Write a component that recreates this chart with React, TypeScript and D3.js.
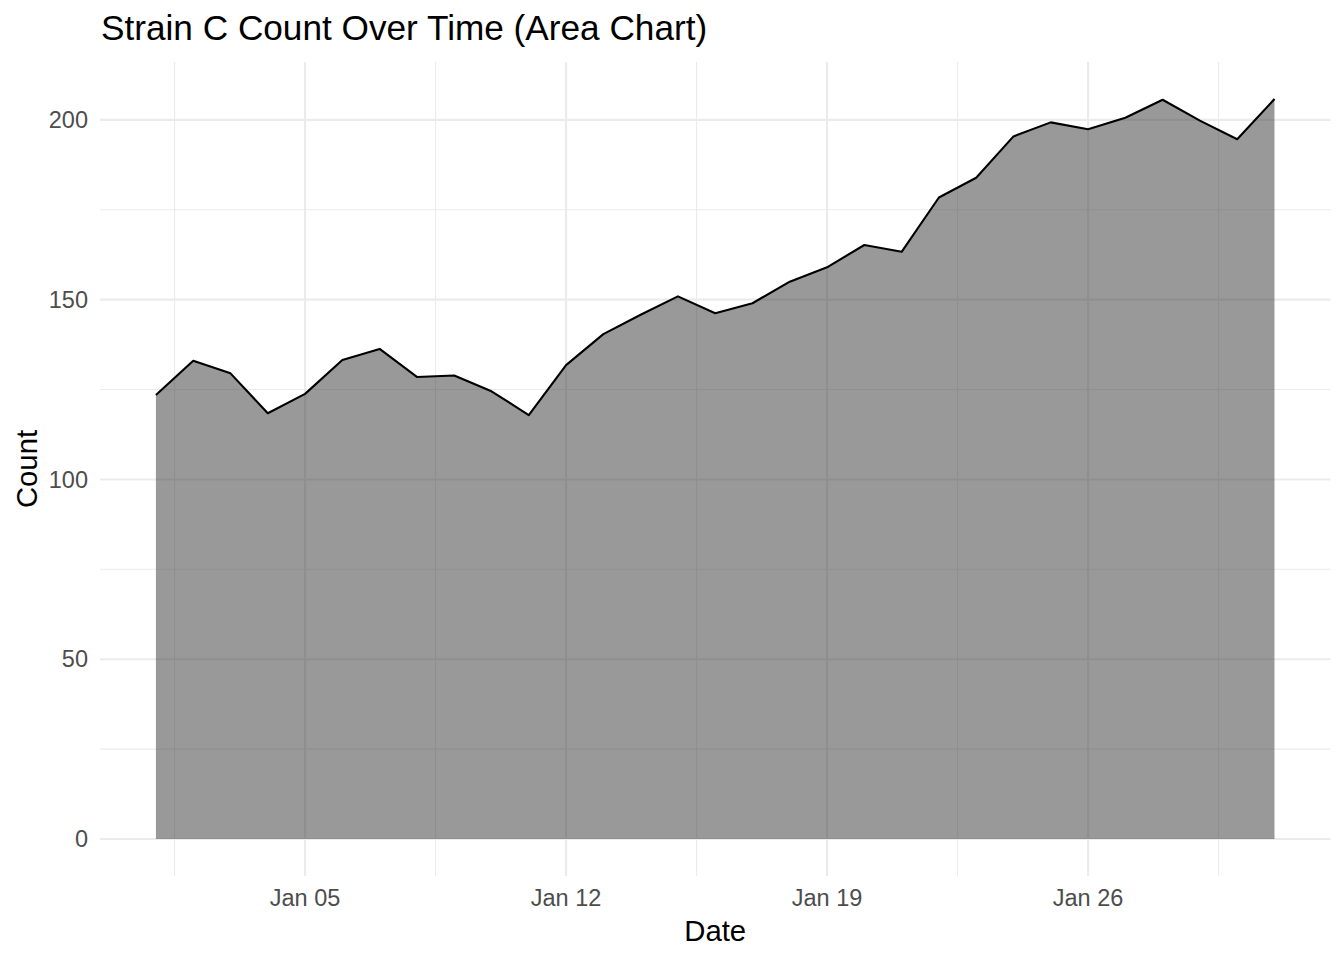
import React from "react";
import * as d3 from "d3";

const days: number[] = Array.from({ length: 31 }, (_, i) => i + 1);
const counts: number[] = [
  123.5, 133.0, 129.5, 118.4, 123.8, 133.2, 136.3, 128.5, 128.9, 124.5, 117.9,
  131.8, 140.4, 145.8, 150.9, 146.2, 149.0, 155.0, 159.0, 165.2, 163.3, 178.4,
  183.9, 195.4, 199.3, 197.4, 200.6, 205.6, 199.8, 194.6, 205.8,
];
const xTickDays: number[] = [5, 12, 19, 26];
const xMinorDays: number[] = [1.5, 8.5, 15.5, 22.5, 29.5];
const yTicks: number[] = [0, 50, 100, 150, 200];
const yMinor: number[] = [25, 75, 125, 175];

const W = 1344;
const H = 960;
const left = 100;
const right = 1330.4;
const top = 62;
const bottom = 876;

const toDate = (d: number) => new Date(2024, 0, d);

export default function App() {
  const data = days.map((d, i) => ({ date: toDate(d), v: counts[i] }));
  const x0 = toDate(1).getTime();
  const x1 = toDate(31).getTime();
  const span = x1 - x0;
  const x = d3
    .scaleTime()
    .domain([new Date(x0 - span * 0.05), new Date(x1 + span * 0.05)])
    .range([left, right]);
  const vmax = d3.max(counts) as number;
  const y = d3
    .scaleLinear()
    .domain([-vmax * 0.05, vmax * 1.05])
    .range([bottom, top]);

  const area = d3
    .area<{ date: Date; v: number }>()
    .x((d) => x(d.date))
    .y0(y(0))
    .y1((d) => y(d.v));
  const line = d3
    .line<{ date: Date; v: number }>()
    .x((d) => x(d.date))
    .y((d) => y(d.v));
  const fmt = d3.timeFormat("%b %d");
  const minorDate = (d: number) => new Date(toDate(1).getTime() + (d - 1) * 86400000);

  const font = "Liberation Sans, Arial, Helvetica, sans-serif";
  return (
    <div style={{ position: "absolute", left: 0, top: 0 }}>
      <svg width={W} height={H} style={{ display: "block", background: "#fff" }}>
        {yMinor.map((t) => (
          <line key={"ym" + t} x1={left} x2={right} y1={y(t)} y2={y(t)} stroke="#EBEBEB" strokeWidth={1.1} />
        ))}
        {xMinorDays.map((d) => (
          <line key={"xm" + d} x1={x(minorDate(d))} x2={x(minorDate(d))} y1={top} y2={bottom} stroke="#EBEBEB" strokeWidth={1.1} />
        ))}
        {yTicks.map((t) => (
          <line key={"y" + t} x1={left} x2={right} y1={y(t)} y2={y(t)} stroke="#EBEBEB" strokeWidth={2.1} />
        ))}
        {xTickDays.map((d) => (
          <line key={"x" + d} x1={x(toDate(d))} x2={x(toDate(d))} y1={top} y2={bottom} stroke="#EBEBEB" strokeWidth={2.1} />
        ))}
        <path d={area(data) || ""} fill="#333333" fillOpacity={0.5} />
        <path d={line(data) || ""} fill="none" stroke="#000" strokeWidth={2.1} strokeLinejoin="round" />
        {yTicks.map((t) => (
          <text key={"yl" + t} x={88} y={y(t)} dy="0.35em" textAnchor="end" fontFamily={font} fontSize={23.5} fill="#4D4D4D">
            {t}
          </text>
        ))}
        {xTickDays.map((d) => (
          <text key={"xl" + d} x={x(toDate(d))} y={906} textAnchor="middle" fontFamily={font} fontSize={23.5} fill="#4D4D4D">
            {fmt(toDate(d))}
          </text>
        ))}
        <text x={(left + right) / 2} y={941} textAnchor="middle" fontFamily={font} fontSize={29.3} fill="#000">
          Date
        </text>
        <text transform={`translate(37,${(top + bottom) / 2}) rotate(-90)`} textAnchor="middle" fontFamily={font} fontSize={29.3} fill="#000">
          Count
        </text>
        <text x={101} y={40} fontFamily={font} fontSize={35.2} fill="#000">
          Strain C Count Over Time (Area Chart)
        </text>
      </svg>
    </div>
  );
}
